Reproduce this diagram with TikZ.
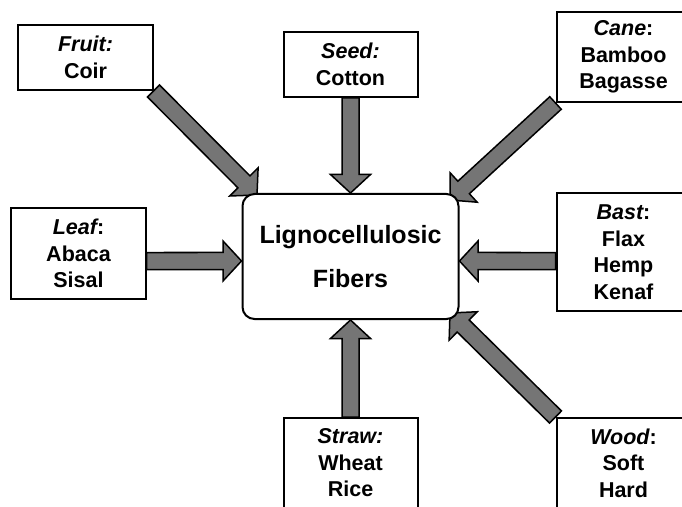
\documentclass[tikz,border=0pt]{standalone}
\usepackage{fontspec}
\setmainfont{Liberation Sans}
\usetikzlibrary{calc,backgrounds}

\definecolor{arrowgray}{gray}{0.46}

% broad grey arrow from #1 to the tip #2
\newcommand{\fatarrow}[2]{%
  \coordinate (hb) at ($(#2)!18.5bp!(#1)$);
  \filldraw[feed] ($(#1)!8.5bp!90:(#2)$) -- ($(hb)!8.5bp!90:(#2)$)
    -- ($(hb)!20bp!90:(#2)$) -- (#2) -- ($(hb)!20bp!-90:(#2)$)
    -- ($(hb)!8.5bp!-90:(#2)$) -- ($(#1)!8.5bp!-90:(#2)$) -- cycle;
}

\begin{document}
\begin{tikzpicture}[x=1bp, y=-1bp,
    source/.style={draw, line width=2bp, fill=white, minimum width=134bp,
      inner sep=0, align=center,
      font=\fontsize{21.5bp}{26.5bp}\selectfont\bfseries},
    fibers/.style={draw, line width=2bp, fill=white, rounded corners=12bp,
      minimum width=216bp, minimum height=125bp, align=center,
      font=\fontsize{25bp}{44bp}\selectfont\bfseries},
    feed/.style={fill=arrowgray, draw=black, line width=1.5bp}]

    \useasboundingbox (0,0) rectangle (682,507);
    \clip (0,0) rectangle (682,507);

    % Centre
    \node[fibers] (lig) at (350.5, 256.5) {Lignocellulosic\\Fibers};

    % Sources
    \node[source, minimum height=65bp] (fruit) at (85.5, 57.5)
      {\textit{Fruit:}\\Coir};
    \node[source, minimum height=65bp] (seed) at (350.5, 64.5)
      {\textit{Seed:}\\Cotton};
    \node[source, minimum height=90bp] (cane) at (623.5, 57)
      {{\itshape Cane}:\\Bamboo\\Bagasse};
    \node[source, minimum height=91bp] (leaf) at (78.5, 253.5)
      {{\itshape Leaf}:\\Abaca\\Sisal};
    \node[source, minimum height=118bp] (bast) at (623.5, 252)
      {{\itshape Bast}:\\Flax\\Hemp\\Kenaf};
    \node[source, minimum height=90bp] (straw) at (350.5, 463)
      {\textit{Straw:}\\Wheat\\Rice};
    \node[source, minimum height=90bp] (wood) at (623.5, 463)
      {{\itshape Wood}:\\Soft\\Hard};

    % Arrow ends
    \coordinate (fruittip) at (257, 195);
    \coordinate (canetip) at (450, 200);
    \coordinate (woodtip) at (450, 313);
    \coordinate (leafout) at ([yshift=-7.5bp]leaf.east);
    \coordinate (leaftip) at ([yshift=-4.5bp]lig.west);
    \coordinate (bastout) at ([yshift=-9bp]bast.west);
    \coordinate (basttip) at ([yshift=-4.5bp]lig.east);

    % Arrows
    \begin{scope}[on background layer]
      \fatarrow{fruit.south east}{fruittip}
      \fatarrow{seed.south}{lig.north}
      \fatarrow{cane.south west}{canetip}
      \fatarrow{leafout}{leaftip}
      \fatarrow{bastout}{basttip}
      \fatarrow{straw.north}{lig.south}
      \fatarrow{wood.north west}{woodtip}
    \end{scope}

\end{tikzpicture}
\end{document}
